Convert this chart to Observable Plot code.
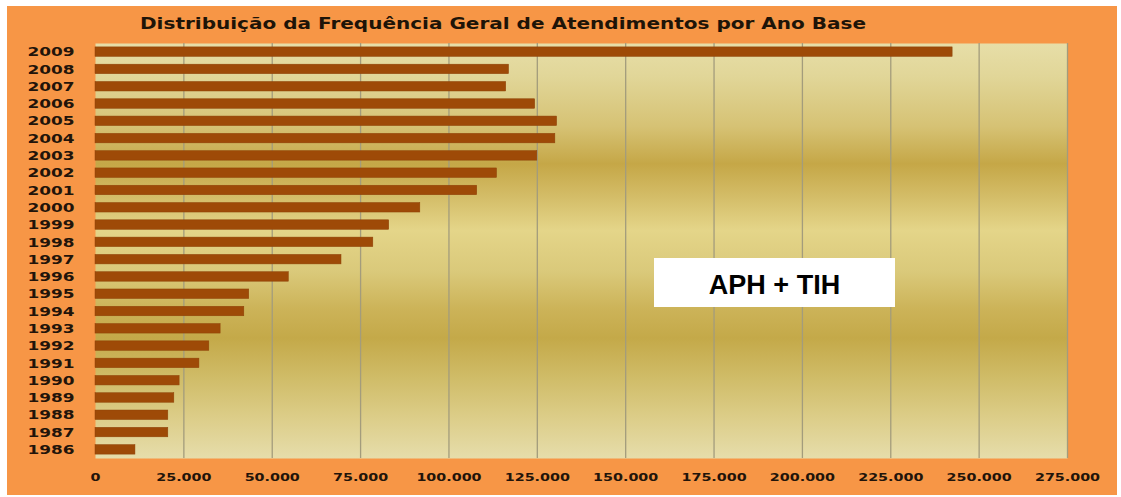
<!DOCTYPE html>
<html>
<head>
<meta charset="utf-8">
<script src="https://cdn.jsdelivr.net/npm/d3@7"></script>
<script src="https://cdn.jsdelivr.net/npm/@observablehq/plot@0.6"></script>
<style>
  html, body { margin: 0; padding: 0; background: #ffffff; }
  #wrap { position: relative; width: 1121px; height: 497px; background: #ffffff; overflow: hidden; }
  #frame { position: absolute; left: 7px; top: 6px; width: 1110px; height: 489px; background: #f79646; }
  #chart { position: absolute; left: 0; top: 0; }
  #tag { position: absolute; left: 654px; top: 258px; width: 241px; height: 49px; background: #ffffff;
         font-family: "Liberation Sans", Arial, sans-serif; font-weight: bold; font-size: 27px; color: #000;
         display: flex; align-items: center; justify-content: center; padding-top: 6px; box-sizing: border-box; }
</style>
</head>
<body>
<div id="wrap">
  <div id="frame"></div>
  <div id="chart"></div>
  <div id="tag">APH + TIH</div>
</div>
<script>
const title = "Distribuição da Frequência Geral de Atendimentos por Ano Base";
const years = ["2009","2008","2007","2006","2005","2004","2003","2002","2001","2000","1999","1998",
               "1997","1996","1995","1994","1993","1992","1991","1990","1989","1988","1987","1986"];
const values = [242500,117000,116200,124400,130600,130100,125000,113600,108000,91900,83100,78600,
                69600,54700,43500,42100,35400,32200,29400,23800,22300,20600,20600,11300];
const xTicks = [0,25000,50000,75000,100000,125000,150000,175000,200000,225000,250000,275000];

const data = years.map((y, i) => ({year: y, value: values[i]}));
const locale = d3.formatLocale({decimal: ",", thousands: ".", grouping: [3], currency: ["", ""]});
const fmt = locale.format(",");

const gradStops = [
  [0, "#e7dea8"], [0.08, "#e1d698"], [0.2, "#d6c274"], [0.29, "#c5a747"], [0.37, "#d4bd68"],
  [0.45, "#e4d589"], [0.55, "#dac97a"], [0.64, "#ccb358"], [0.71, "#c4a949"], [0.8, "#cfbb66"],
  [0.9, "#dccd88"], [1, "#e6ddab"]
];

function defs() {
  const d = d3.create("svg:defs");
  const g = d.append("linearGradient").attr("id", "bg").attr("x1", 0).attr("y1", 0).attr("x2", 0).attr("y2", 1);
  gradStops.forEach(([o, c]) => g.append("stop").attr("offset", o).attr("stop-color", c));
  return d.node();
}

const chart = Plot.plot({
  width: 1121,
  height: 497,
  marginLeft: 95,
  marginRight: 54,
  marginTop: 43,
  marginBottom: 39,
  style: {background: "transparent", fontFamily: "'DejaVu Sans', Verdana, sans-serif", overflow: "visible"},
  x: {domain: [0, 275000]},
  y: {domain: years, paddingInner: 0.45, paddingOuter: 0.225, round: false},
  marks: [
    defs,
    Plot.frame({fill: "url(#bg)", stroke: "none"}),
    Plot.ruleX(xTicks.filter(d => d > 0), {stroke: "#a39c7c", strokeWidth: 1.3}),
    Plot.barX(data, {x: "value", y: "year", fill: "#9e4a07", stroke: "#8e4208", strokeWidth: 0.5}),
    Plot.axisX({ticks: xTicks, tickFormat: fmt, tickSize: 0, tickPadding: 15, label: null,
                fontSize: 11, fontWeight: "bold", fill: "#22140a"}),
    Plot.axisY({tickSize: 0, tickPadding: 21, label: null,
                fontSize: 13, fontWeight: "bold", fill: "#22140a"})
  ]
});

document.getElementById("chart").appendChild(chart);

// title
d3.select(chart).append("text")
  .attr("x", 503).attr("y", 29)
  .attr("text-anchor", "middle")
  .attr("font-family", "'DejaVu Sans', Verdana, sans-serif")
  .attr("font-weight", "bold")
  .attr("font-size", 15.5)
  .attr("fill", "#1e1408")
  .text(title);

// horizontally stretched lettering as in the reference
chart.querySelectorAll("text").forEach(t => {
  const len = t.getComputedTextLength();
  const isTitle = t.textContent === title;
  const target = isTitle ? 726 : len * 1.3;
  t.setAttribute("textLength", target);
  t.setAttribute("lengthAdjust", "spacingAndGlyphs");
});
</script>
</body>
</html>
